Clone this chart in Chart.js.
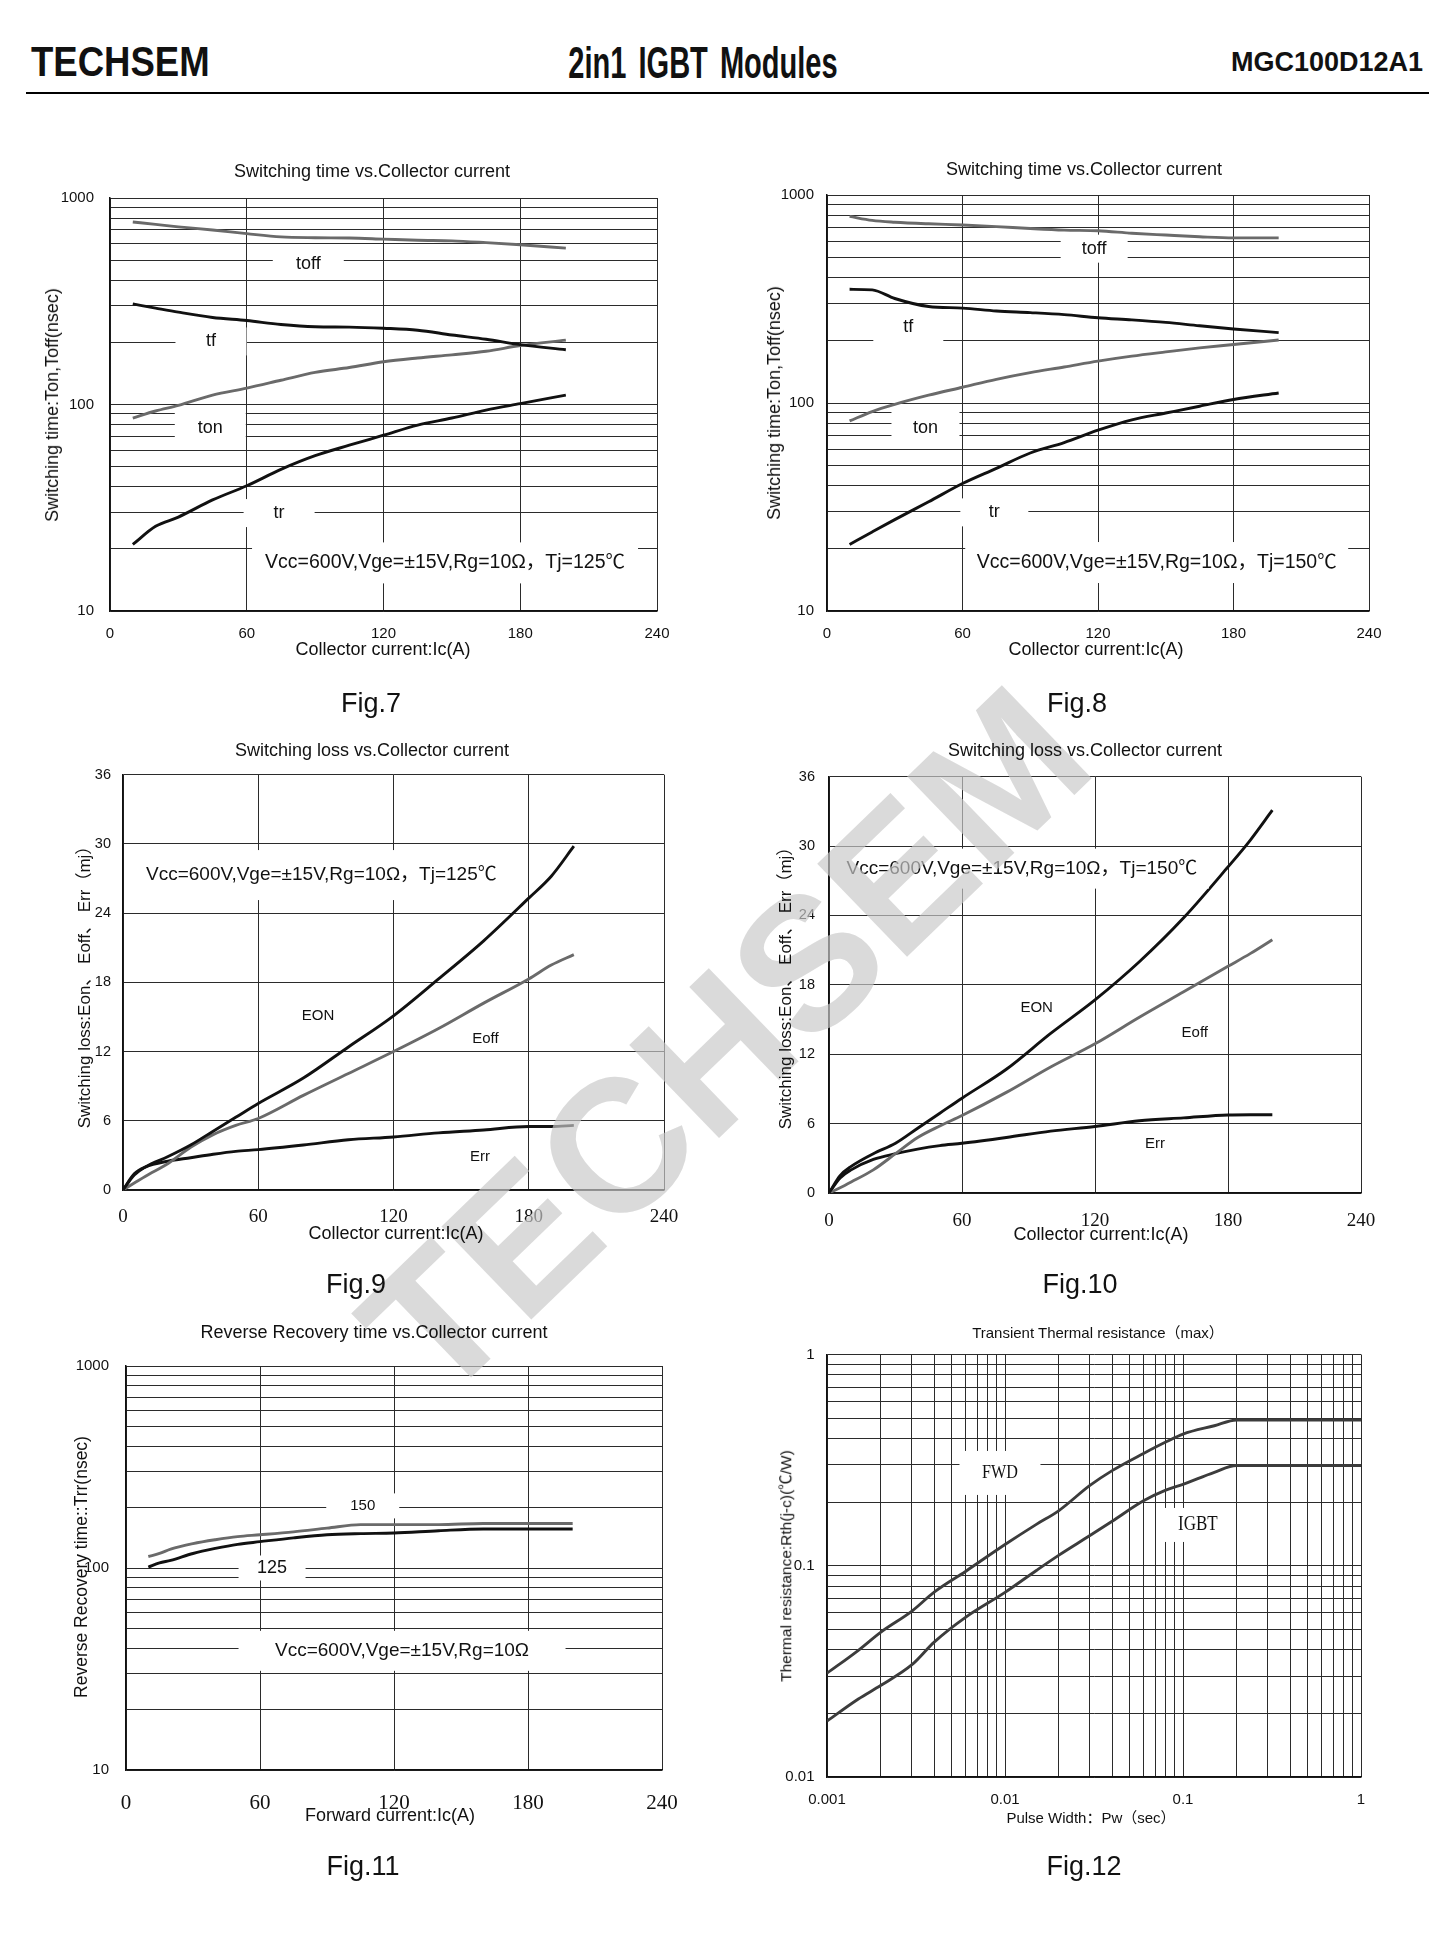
<!DOCTYPE html>
<html>
<head>
<meta charset="utf-8">
<title>MGC100D12A1 characteristics</title>
<script src="https://cdn.jsdelivr.net/npm/chart.js@4.4.1/dist/chart.umd.min.js"></script>
<style>
  html, body { margin: 0; padding: 0; background: #fff; }
  #page { position: relative; width: 1443px; height: 1951px; overflow: hidden;
          font-family: "Liberation Sans", Arial, "Noto Sans CJK SC", sans-serif; color: #111; }
  .t { position: absolute; white-space: nowrap; line-height: 1; }
  canvas { position: absolute; }
  #rule { position: absolute; left: 26px; top: 92px; width: 1403px; height: 2px; background: #000; }
  #watermark { position: absolute; left: 725px; top: 1042px; white-space: nowrap; line-height: 1;
               font: bold 188px "Liberation Sans", Arial, sans-serif; color: rgba(200,200,200,0.68);
               transform: translate(-50%, -50%) rotate(-44deg); pointer-events: none; }
</style>
</head>
<body>
<div id="page">
  <div id="rule"></div>
  <canvas id="fig7"></canvas>
  <canvas id="fig8"></canvas>
  <canvas id="fig9"></canvas>
  <canvas id="fig10"></canvas>
  <canvas id="fig11"></canvas>
  <canvas id="fig12"></canvas>
  <div id="watermark">TECHSEM</div>
</div>
<script>
// ─── Data ──────────────────────────────────────────────────────────────────

// Fig.7 / Fig.8 switching time (ns) vs collector current (A)
const IC_T = [10, 20, 30, 45, 60, 75, 90, 105, 120, 135, 150, 165, 180, 200];
const F7_TOFF = [765, 745, 725, 700, 672, 648, 642, 640, 632, 624, 620, 608, 594, 572];
const F7_TF   = [307, 293, 280, 264, 255, 244, 238, 237, 234, 229, 217, 207, 195, 184];
const F7_TON  = [86, 93, 99, 111, 120, 131, 143, 151, 161, 168, 174, 181, 193, 205];
const F7_TR   = [21, 25.7, 28.5, 34.5, 40.4, 48.5, 56.5, 63.5, 71, 79.5, 86, 94, 101, 111];
const F8_TOFF = [789, 755, 740, 727, 718, 705, 690, 678, 673, 655, 642, 630, 622, 622];
const F8_TF   = [352, 350, 318, 291, 286, 277, 272, 266, 257, 251, 244, 235, 227, 218];
const F8_TON  = [82, 91, 98.5, 109, 119, 130, 140, 149, 159, 168, 176, 184, 191, 201];
const F8_TR   = [20.9, 24, 27.5, 33.5, 41, 48.5, 57.5, 64.5, 74, 83, 89.5, 96.5, 104, 111.7];

// Fig.9 / Fig.10 switching loss (mJ) vs collector current (A)
const IC_E = [0, 5, 10, 20, 30, 40, 50, 60, 80, 100, 120, 140, 160, 180, 190, 200];
const F9_EON   = [0, 1.3, 2.0, 2.9, 3.9, 5.1, 6.3, 7.5, 9.7, 12.4, 15.1, 18.3, 21.6, 25.3, 27.2, 29.8];
const F9_EOFF  = [0, 0.6, 1.2, 2.3, 3.7, 4.8, 5.6, 6.2, 8.2, 10.1, 12.0, 14.0, 16.2, 18.3, 19.5, 20.4];
const F9_ERR   = [0, 1.4, 2.0, 2.5, 2.8, 3.1, 3.35, 3.5, 3.9, 4.35, 4.6, 4.95, 5.2, 5.5, 5.5, 5.6];
const F10_EON  = [0, 1.5, 2.3, 3.4, 4.3, 5.6, 6.9, 8.2, 10.7, 13.8, 16.7, 20.0, 23.8, 28.2, 30.5, 33.1];
const F10_EOFF = [0, 0.45, 0.95, 2.0, 3.4, 4.8, 5.8, 6.7, 8.7, 10.9, 12.9, 15.2, 17.4, 19.6, 20.7, 21.9];
const F10_ERR  = [0, 1.3, 2.0, 2.9, 3.4, 3.8, 4.1, 4.3, 4.8, 5.35, 5.75, 6.25, 6.5, 6.75, 6.77, 6.77];

// Fig.11 reverse recovery time (ns) vs forward current (A)
const IF_RR = [10, 15, 20, 30, 40, 50, 60, 75, 90, 105, 120, 140, 160, 180, 200];
const F11_150 = [114, 118, 124, 132, 138, 143, 146, 151, 157.5, 164, 164, 164, 166, 166, 166];
const F11_125 = [101, 106, 109, 118, 125, 131, 135, 141, 146, 148, 149, 153, 156, 156, 156];

// Fig.12 transient thermal resistance (°C/W) vs pulse width (s)
const PW = [0.001, 0.0015, 0.002, 0.003, 0.004, 0.006, 0.01, 0.015, 0.02, 0.03, 0.04, 0.06, 0.08, 0.1, 0.15, 0.2, 1];
const F12_FWD  = [0.031, 0.0398, 0.0484, 0.061, 0.075, 0.094, 0.126, 0.157, 0.182, 0.24, 0.282, 0.34, 0.385, 0.42, 0.46, 0.49, 0.49];
const F12_IGBT = [0.0184, 0.0234, 0.0271, 0.034, 0.0435, 0.057, 0.0748, 0.095, 0.112, 0.139, 0.1625, 0.203, 0.228, 0.243, 0.277, 0.298, 0.298];

// tick labels
const CURRENT_TICKS = [0, 60, 120, 180, 240];
const LOSS_TICKS = [0, 6, 12, 18, 24, 30, 36];
const TIME_LABELS = [10, 100, 1000];
const PW_LABELS = [0.001, 0.01, 0.1, 1];
const RTH_LABELS = [0.01, 0.1, 1];

const COND_125 = 'Vcc=600V,Vge=±15V,Rg=10Ω，Tj=125℃';
const COND_150 = 'Vcc=600V,Vge=±15V,Rg=10Ω，Tj=150℃';
const COND_RR = 'Vcc=600V,Vge=±15V,Rg=10Ω';

// ─── helpers ───────────────────────────────────────────────────────────────

const GRAY = '#6a6a6a';
const BLACK = '#111111';
const PAD = { l: 90, t: 20, r: 40, b: 45 };
const SANS = '"Liberation Sans", Arial, "Noto Sans CJK SC", sans-serif';
const SERIF = '"Liberation Serif", "Times New Roman", serif';

function logGrid(minExp, maxExp) {
  const out = [];
  for (let e = minExp; e < maxExp; e++) {
    for (let k = 1; k < 10; k++) out.push(+(k * Math.pow(10, e)).toPrecision(3));
  }
  out.push(Math.pow(10, maxExp));
  return out;
}

function series(xs, ys, color, width = 2.9) {
  return {
    data: xs.map((x, i) => ({ x, y: ys[i] })),
    borderColor: color,
    borderWidth: width,
    pointRadius: 0,
    cubicInterpolationMode: 'monotone',
    fill: false,
  };
}

function addText(str, x, y, o = {}) {
  const d = document.createElement('div');
  d.className = 't';
  d.textContent = str;
  const anchor = o.anchor || 'center';
  const tx = anchor === 'left' ? '0' : anchor === 'right' ? '-100%' : '-50%';
  d.style.left = x + 'px';
  d.style.top = y + 'px';
  d.style.fontSize = (o.size || 18) + 'px';
  if (o.bold) d.style.fontWeight = 'bold';
  if (o.family) d.style.fontFamily = o.family;
  if (o.wordSpacing) d.style.wordSpacing = o.wordSpacing + 'px';
  let tf = `translate(${tx}, -50%)`;
  if (o.rotate) tf += ` rotate(${o.rotate}deg)`;
  if (o.sx) tf += ` scaleX(${o.sx})`;
  d.style.transform = tf;
  d.style.transformOrigin = anchor === 'left' ? 'left center' : anchor === 'right' ? 'right center' : 'center center';
  document.getElementById('page').appendChild(d);
}

// white text boxes that break the grid, as on the datasheet
const boxLabels = {
  id: 'boxLabels',
  afterDatasetsDraw(chart, args, opts) {
    const { ctx, scales: { x, y } } = chart;
    (opts.items || []).forEach(it => {
      const px = x.getPixelForValue(it.x);
      const py = y.getPixelForValue(it.y);
      ctx.save();
      if (it.w) {
        ctx.fillStyle = '#fff';
        ctx.fillRect(px - it.w / 2, py - it.h / 2, it.w, it.h);
      }
      ctx.fillStyle = BLACK;
      ctx.font = `${it.size || 18}px ${it.family || SANS}`;
      ctx.textAlign = 'center';
      ctx.textBaseline = 'middle';
      ctx.translate(px, py);
      ctx.scale(it.sx || 1, 1);
      ctx.fillText(it.text, 0, 0);
      ctx.restore();
    });
  }
};

function axis(a, which) {
  return {
    type: a.type,
    min: a.min,
    max: a.max,
    afterBuildTicks: s => { s.ticks = a.grid.map(v => ({ value: v })); },
    afterFit: s => { if (which === 'x') s.height = PAD.b; else s.width = PAD.l; },
    ticks: {
      autoSkip: false,
      maxRotation: 0,
      padding: a.pad,
      color: BLACK,
      font: { family: a.family || SANS, size: a.size || 15 },
      callback: v => (a.labels.includes(v) ? String(v) : ''),
    },
    grid: { color: '#2b2b2b', lineWidth: 1, drawTicks: false },
    border: { display: true, color: BLACK, width: 1.5 },
  };
}

function makeChart(id, rect, cfg) {
  const cv = document.getElementById(id);
  const w = Math.round(rect.r - rect.l), h = Math.round(rect.b - rect.t);
  cv.width = w + PAD.l + PAD.r;
  cv.height = h + PAD.t + PAD.b;
  cv.style.left = Math.round(rect.l - PAD.l) + 'px';
  cv.style.top = Math.round(rect.t - PAD.t) + 'px';
  return new Chart(cv, {
    type: 'line',
    data: { datasets: cfg.datasets },
    options: {
      responsive: false,
      animation: false,
      layout: { padding: { left: 0, top: PAD.t, right: PAD.r, bottom: 0 } },
      plugins: {
        legend: { display: false },
        tooltip: { enabled: false },
        boxLabels: { items: cfg.labels },
      },
      scales: { x: axis(cfg.x, 'x'), y: axis(cfg.y, 'y') },
    },
    plugins: [boxLabels],
  });
}

// ─── header ────────────────────────────────────────────────────────────────

addText('TECHSEM', 31, 62, { anchor: 'left', size: 42, bold: true, sx: 0.87 });
addText('2in1 IGBT Modules', 703, 63, { size: 44, bold: true, sx: 0.66, wordSpacing: 6 });
addText('MGC100D12A1', 1423, 62, { anchor: 'right', size: 27, bold: true });

// ─── Fig.7 ─────────────────────────────────────────────────────────────────

const timeAxisX = { type: 'linear', min: 0, max: 240, grid: CURRENT_TICKS, labels: CURRENT_TICKS, pad: 14, size: 15 };
const timeAxisY = (pad) => ({ type: 'logarithmic', min: 10, max: 1000, grid: logGrid(1, 3), labels: TIME_LABELS, pad, size: 15 });

makeChart('fig7', { l: 110, t: 193, r: 657, b: 611 }, {
  x: timeAxisX,
  y: timeAxisY(16),
  datasets: [
    series(IC_T, F7_TOFF, GRAY),
    series(IC_T, F7_TF, BLACK),
    series(IC_T, F7_TON, GRAY),
    series(IC_T, F7_TR, BLACK),
  ],
  labels: [
    { text: 'toff', x: 87, y: 478, w: 71, h: 26 },
    { text: 'tf', x: 44.3, y: 202, w: 71, h: 28 },
    { text: 'ton', x: 44, y: 77, w: 71, h: 32 },
    { text: 'tr', x: 74.2, y: 29.8, w: 71, h: 28 },
    { text: COND_125, x: 147, y: 17.1, w: 386, h: 41, size: 19.5 },
  ],
});
addText('Switching time vs.Collector current', 372, 171, { size: 18 });
addText('Switching time:Ton,Toff(nsec)', 52, 405, { size: 18, rotate: -90 });
addText('Collector current:Ic(A)', 383, 649, { size: 18 });
addText('Fig.7', 371, 703, { size: 27 });

// ─── Fig.8 ─────────────────────────────────────────────────────────────────

makeChart('fig8', { l: 827, t: 193, r: 1369, b: 611 }, {
  x: timeAxisX,
  y: timeAxisY(13),
  datasets: [
    series(IC_T, F8_TOFF, GRAY),
    series(IC_T, F8_TF, BLACK),
    series(IC_T, F8_TON, GRAY),
    series(IC_T, F8_TR, BLACK),
  ],
  labels: [
    { text: 'toff', x: 118.3, y: 552, w: 67, h: 28 },
    { text: 'tf', x: 36, y: 231, w: 70, h: 34 },
    { text: 'ton', x: 43.6, y: 76, w: 68, h: 32 },
    { text: 'tr', x: 74.1, y: 29.8, w: 68, h: 28 },
    { text: COND_150, x: 146, y: 17.1, w: 383, h: 41, size: 19.5 },
  ],
});
addText('Switching time vs.Collector current', 1084, 169, { size: 18 });
addText('Switching time:Ton,Toff(nsec)', 774, 403, { size: 18, rotate: -90 });
addText('Collector current:Ic(A)', 1096, 649, { size: 18 });
addText('Fig.8', 1077, 703, { size: 27 });

// ─── Fig.9 ─────────────────────────────────────────────────────────────────

const lossAxisX = (pad) => ({ type: 'linear', min: 0, max: 240, grid: CURRENT_TICKS, labels: CURRENT_TICKS, pad, size: 19, family: SERIF });
const lossAxisY = (pad) => ({ type: 'linear', min: 0, max: 36, grid: LOSS_TICKS, labels: LOSS_TICKS, pad, size: 14.5 });

makeChart('fig9', { l: 122.5, t: 773.6, r: 663.5, b: 1190 }, {
  x: lossAxisX(16),
  y: lossAxisY(12),
  datasets: [
    series(IC_E, F9_EON, BLACK),
    series(IC_E, F9_EOFF, GRAY),
    series(IC_E, F9_ERR, BLACK),
  ],
  labels: [
    { text: COND_125, x: 88, y: 27.3, w: 369, h: 50, size: 19 },
    { text: 'EON', x: 86.5, y: 15.1, size: 15 },
    { text: 'Eoff', x: 160.8, y: 13.06, size: 15 },
    { text: 'Err', x: 158.4, y: 2.88, size: 15 },
  ],
});
addText('Switching loss vs.Collector current', 372, 750, { size: 18 });
addText('Switching loss:Eon、 Eoff、 Err（mj）', 84, 983, { size: 17, rotate: -90 });
addText('Collector current:Ic(A)', 396, 1233, { size: 18 });
addText('Fig.9', 356, 1284, { size: 27 });

// ─── Fig.10 ────────────────────────────────────────────────────────────────

makeChart('fig10', { l: 828.7, t: 773.6, r: 1360.7, b: 1193 }, {
  x: lossAxisX(17),
  y: lossAxisY(14),
  datasets: [
    series(IC_E, F10_EON, BLACK),
    series(IC_E, F10_EOFF, GRAY),
    series(IC_E, F10_ERR, BLACK),
  ],
  labels: [
    { text: COND_150, x: 87, y: 28.05, w: 374, h: 40, size: 19 },
    { text: 'EON', x: 93.7, y: 16.05, size: 15 },
    { text: 'Eoff', x: 165, y: 13.85, size: 15 },
    { text: 'Err', x: 147.1, y: 4.29, size: 15 },
  ],
});
addText('Switching loss vs.Collector current', 1085, 750, { size: 18 });
addText('Switching loss:Eon、 Eoff、 Err（mj）', 785, 984, { size: 17, rotate: -90 });
addText('Collector current:Ic(A)', 1101, 1234, { size: 18 });
addText('Fig.10', 1080, 1284, { size: 27 });

// ─── Fig.11 ────────────────────────────────────────────────────────────────

makeChart('fig11', { l: 126, t: 1360, r: 662, b: 1770 }, {
  x: { type: 'linear', min: 0, max: 240, grid: CURRENT_TICKS, labels: CURRENT_TICKS, pad: 21, size: 21, family: SERIF },
  y: { type: 'logarithmic', min: 10, max: 1000, grid: logGrid(1, 3), labels: TIME_LABELS, pad: 17, size: 15 },
  datasets: [
    series(IF_RR, F11_150, GRAY),
    series(IF_RR, F11_125, BLACK),
  ],
  labels: [
    { text: '150', x: 106, y: 203, w: 73, h: 25, size: 15 },
    { text: '125', x: 65.4, y: 100, w: 67, h: 25, size: 18 },
    { text: COND_RR, x: 123.6, y: 38.9, w: 327, h: 40, size: 19 },
  ],
});
addText('Reverse Recovery time vs.Collector current', 374, 1332, { size: 18 });
addText('Reverse Recovery time::Trr(nsec)', 81.5, 1567, { size: 17.5, rotate: -90 });
addText('Forward current:Ic(A)', 390, 1815, { size: 18 });
addText('Fig.11', 363, 1866, { size: 27 });

// ─── Fig.12 ────────────────────────────────────────────────────────────────

makeChart('fig12', { l: 827, t: 1353, r: 1361, b: 1777 }, {
  x: { type: 'logarithmic', min: 0.001, max: 1, grid: logGrid(-3, 0), labels: PW_LABELS, pad: 14, size: 15 },
  y: { type: 'logarithmic', min: 0.01, max: 1, grid: logGrid(-2, 0), labels: RTH_LABELS, pad: 12.5, size: 15 },
  datasets: [
    series(PW, F12_FWD, '#3c3c3c'),
    series(PW, F12_IGBT, '#3c3c3c'),
  ],
  labels: [
    { text: 'FWD', x: 0.00937, y: 0.275, w: 81, h: 44, size: 19, family: SERIF, sx: 0.85 },
    { text: 'IGBT', x: 0.1213, y: 0.156, w: 67, h: 34, size: 20, family: SERIF, sx: 0.85 },
  ],
});
addText('Transient Thermal resistance（max）', 1098, 1332, { size: 15 });
addText('Thermal resistance:Rth(j-c)(℃/W)', 786, 1566, { size: 15.5, rotate: -90 });
addText('Pulse Width：Pw（sec）', 1091, 1817, { size: 15 });
addText('Fig.12', 1084, 1866, { size: 27 });
</script>
</body>
</html>
